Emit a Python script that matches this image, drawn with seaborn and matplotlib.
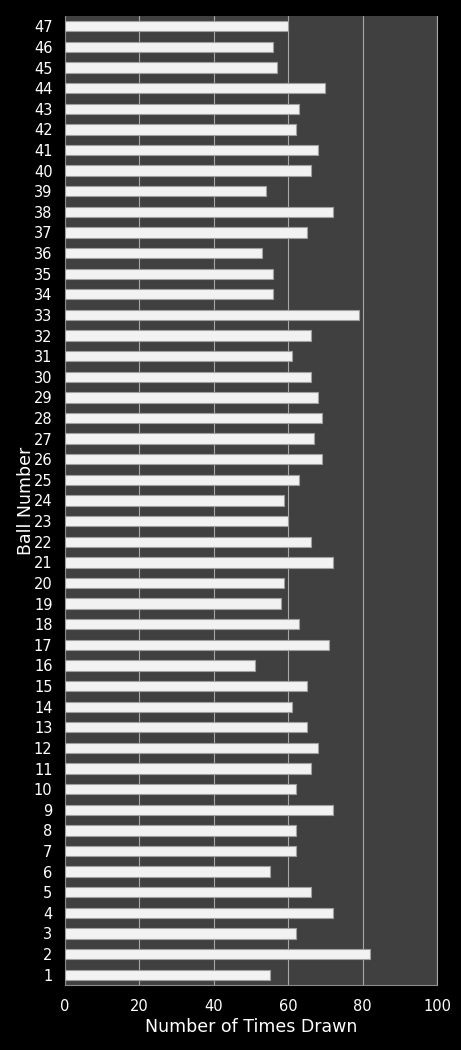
import matplotlib
matplotlib.use("Agg")
import matplotlib.pyplot as plt
import seaborn as sns
import pandas as pd

balls = list(range(1, 48))
times_drawn = [55, 82, 62, 72, 66, 55, 62, 62, 72, 62,
               66, 68, 65, 61, 65, 51, 71, 63, 58, 59,
               72, 66, 60, 59, 63, 69, 67, 69, 68, 66,
               61, 66, 79, 56, 56, 53, 65, 72, 54, 66,
               68, 62, 63, 70, 57, 56, 60]
x_ticks = [0, 20, 40, 60, 80, 100]

df = pd.DataFrame({"ball": [str(b) for b in balls], "times": times_drawn})
order = [str(b) for b in reversed(balls)]

sns.set_theme(style="dark")
plt.rcParams['font.family'] = ['DejaVu Sans']

fig = plt.figure(figsize=(4.61, 10.5), dpi=100, facecolor="black")
ax = fig.add_axes([65/461, 65/1050, 372/461, 969/1050])
ax.set_facecolor("#404040")

sns.barplot(data=df, x="times", y="ball", order=order, orient="h",
            color="#f2f2f2", edgecolor="#a0a0a0", linewidth=0.8,
            width=0.5, ax=ax, zorder=3)

ax.set_xlim(0, 100)
ax.set_xticks(x_ticks)
ax.set_xticklabels([str(t) for t in x_ticks])
ax.grid(axis="x", color="#a8a8a8", linewidth=0.8, zorder=0)
ax.grid(axis="y", visible=False)
ax.set_axisbelow(True)

ax.spines["top"].set_visible(False)
for side in ["left", "bottom", "right"]:
    ax.spines[side].set_visible(True)
    ax.spines[side].set_color("#8a8a8a")
    ax.spines[side].set_linewidth(0.8)
ax.spines["right"].set_color("#a8a8a8")

ax.tick_params(axis="both", colors="white", labelsize=10.5, length=0)
ax.tick_params(axis="y", pad=9)
ax.tick_params(axis="x", pad=10)
ax.set_xlabel("Number of Times Drawn", color="white", fontsize=12.5)
ax.set_ylabel("Ball Number", color="white", fontsize=12.5)
ax.yaxis.set_label_coords(-0.105, 0.5)
ax.xaxis.set_label_coords(0.5, -0.043)
ax.xaxis.label.set_va("center")
ax.yaxis.label.set_va("center")

fig.savefig("out.png", dpi=100, facecolor="black")
